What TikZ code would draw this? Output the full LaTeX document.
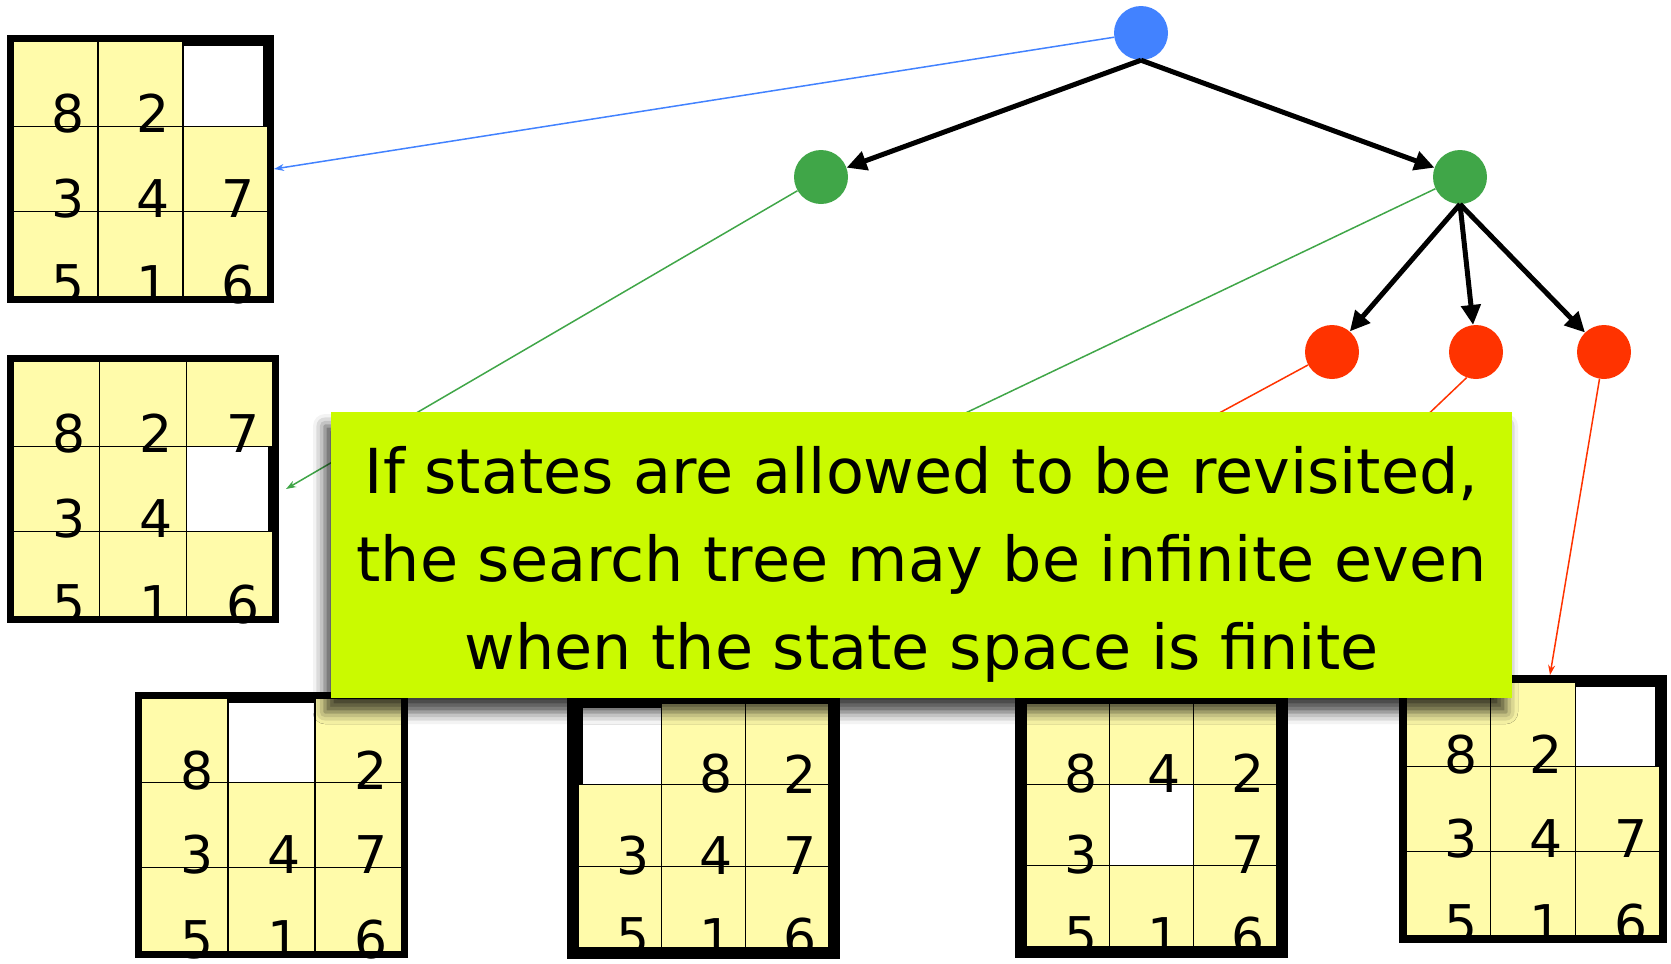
\documentclass[tikz,border=0pt]{standalone}
\usepackage{fontspec}
\setmainfont{DejaVu Sans}
\usetikzlibrary{arrows.meta, calc, shadows.blur}

\definecolor{rootblue}{RGB}{66,130,255}
\definecolor{midgreen}{RGB}{64,166,72}
\definecolor{leafred}{RGB}{255,51,0}
\definecolor{tileyellow}{RGB}{255,251,170}
\definecolor{notelime}{RGB}{202,250,0}

% #1 name, (#2,#3) top left, #4 x #5 size, #6 frame, #7 tiles row by row (0 = blank)
\newcommand{\puzzle}[7]{%
  \node[board, anchor=north west, minimum width=#4pt, minimum height=#5pt] (#1) at (#2,#3) {};
  \fill[black] (#1.north west) rectangle (#1.south east);
  \fill[white] ($(#1.north west)+(#6+5,#6+5)$) rectangle ($(#1.south east)-(#6+5,#6+5)$);
  \pgfmathsetmacro\tilew{(#4-2*#6)/3}
  \pgfmathsetmacro\tileh{(#5-2*#6)/3}
  \foreach \v [count=\k from 0] in {#7} {
    \pgfmathtruncatemacro\row{\k/3}
    \pgfmathtruncatemacro\col{\k-3*\row}
    \ifnum\v>0
      \filldraw[tile] ($(#1.north west)+(#6+\col*\tilew,#6+\row*\tileh)$) rectangle +(\tilew,\tileh);
    \fi
  }
  \foreach \v [count=\k from 0] in {#7} {
    \pgfmathtruncatemacro\row{\k/3}
    \pgfmathtruncatemacro\col{\k-3*\row}
    \ifnum\v>0
      \node[digit] at ($(#1.north west)+(#6+\col*\tilew+\tilew/2+13,#6+\row*\tileh+\tileh/2+30)$) {\v};
    \fi
  }
}

\begin{document}
\begin{tikzpicture}[x=1pt, y=-1pt,
    treenode/.style={circle, minimum size=54pt, inner sep=0pt},
    succ/.style={-{Triangle[length=20pt,width=19pt]}, line width=5pt},
    link/.style={-{Stealth[length=10pt,width=7pt]}, line width=1.5pt},
    board/.style={rectangle, inner sep=0pt, outer sep=0pt},
    tile/.style={fill=tileyellow, draw=black, line width=1.5pt},
    digit/.style={inner sep=0pt, font=\fontsize{52}{52}\selectfont},
    callout/.style={fill=notelime, inner sep=0pt,
      blur shadow={shadow xshift=-6pt, shadow yshift=-14pt, shadow blur radius=12pt, shadow opacity=75}},
  ]
  \useasboundingbox (0,0) rectangle (1671,964);

  % Search tree
  \node[treenode, fill=rootblue] (root) at (1141,33) {};
  \node[treenode, fill=midgreen] (gl) at (821,177) {};
  \node[treenode, fill=midgreen] (gr) at (1460,177) {};
  \node[treenode, fill=leafred] (r1) at (1332,352) {};
  \node[treenode, fill=leafred] (r2) at (1476,352) {};
  \node[treenode, fill=leafred] (r3) at (1604,352) {};

  % States
  \puzzle{s1}{7}{35}{267}{268}{6}{8,2,0,3,4,7,5,1,6}
  \puzzle{s2}{7}{355}{272}{268}{6}{8,2,7,3,4,0,5,1,6}
  \puzzle{s3}{135}{692}{273}{266}{6}{8,0,2,3,4,7,5,1,6}
  \puzzle{s4}{567}{692}{273}{267}{11}{0,8,2,3,4,7,5,1,6}
  \puzzle{s5}{1015}{692}{273}{266}{11}{8,4,2,3,0,7,5,1,6}
  \puzzle{s6}{1399}{675}{268}{268}{7}{8,2,0,3,4,7,5,1,6}

  % Node to state
  \draw[link, rootblue] (root) -- (s1.east);
  \draw[link, midgreen] (gl) -- ([xshift=7pt]s2.east);
  \draw[link, midgreen] (gr) -- ([xshift=-27pt]s3.north east);
  \draw[link, leafred] (r1) -- (s4.north);
  \draw[link, leafred] (r2.250) -- ([xshift=-15pt]s5.north);
  \draw[link, leafred] (r3) -- ([xshift=17pt]s6.north);

  % Successors
  \draw[succ] (root.south) -- (gl);
  \draw[succ] (root.south) -- (gr);
  \draw[succ] (gr.south) -- (r1);
  \draw[succ] (gr.south) -- (r2);
  \draw[succ] (gr.south) -- (r3);

  % Remark
  \node[callout, minimum width=1181pt, minimum height=286pt] (note) at (921.5,555) {};
  \node[align=center, inner sep=0pt, font=\fontsize{62}{88}\selectfont] (msg) at (921.5,564) {If states are allowed to be revisited,\\the search tree may be infinite even\\when the state space is finite};
\end{tikzpicture}
\end{document}
